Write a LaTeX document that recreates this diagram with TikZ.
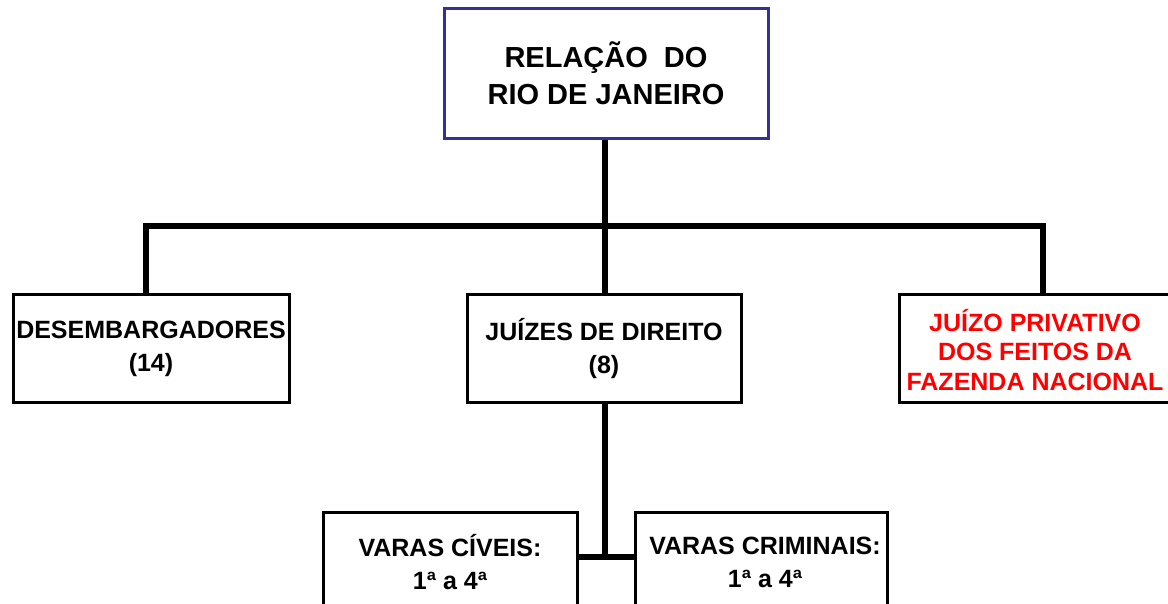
\documentclass[tikz,border=0pt]{standalone}
\usepackage{fontspec}
\setmainfont{Liberation Sans}
\definecolor{topblue}{RGB}{50,50,150}
\definecolor{redtxt}{RGB}{255,0,0}
\begin{document}
\begin{tikzpicture}[x=1pt,y=-1pt,
  box/.style={draw=black,line width=3pt,fill=white,inner sep=0pt},
  conn/.style={line width=5.5pt,line cap=butt,line join=miter},
  txt/.style={align=center,font=\fontsize{25}{33}\selectfont\bfseries,inner sep=0pt}]
\useasboundingbox (0,0) rectangle (1168,603);
\coordinate (bar) at (605,226);
\coordinate (barL) at (146,226);
\coordinate (barR) at (1043,226);
\coordinate (jn) at (605,557);
% boxes
\node[box,draw=topblue,minimum width=324pt,minimum height=130pt,align=center,
  font=\fontsize{29}{37}\selectfont\bfseries] (top) at (606,73) {RELAÇÃO~~DO\\RIO DE JANEIRO};
\node[box,minimum width=276pt,minimum height=108pt] (des) at (151,348) {};
\node[box,minimum width=274pt,minimum height=108pt] (jui) at (604,348) {};
\node[box,minimum width=272pt,minimum height=108pt] (faz) at (1035,348) {};
\node[box,minimum width=254pt,minimum height=130pt,anchor=north] (civ) at (450,511) {};
\node[box,minimum width=252pt,minimum height=130pt,anchor=north] (cri) at (761,511) {};
% connectors
\draw[conn] (top.south -| bar) -- (bar);
\draw[conn] (des.north -| barL) -- (barL) -- (barR) -- (faz.north -| barR);
\draw[conn] (bar) -- (jui.north -| bar);
\draw[conn] (jui.south -| jn) -- ([yshift=2.75pt]jn);
\draw[conn] (civ.east |- jn) -- (cri.west |- jn);
% texts
\node[txt] (desT) at (151,349) {DESEMBARGADORES\\(14)};
\node[txt] (juiT) at (604,349) {JUÍZES DE DIREITO\\(8)};
\node[txt,text=redtxt,font=\fontsize{25}{29.5}\selectfont\bfseries] (fazT) at (1035,350) {JUÍZO PRIVATIVO\\DOS FEITOS DA\\FAZENDA NACIONAL};
\node[txt] (civT) at (450,562) {VARAS CÍVEIS:\\1ª a 4ª};
\node[txt] (criT) at (765,562) {VARAS CRIMINAIS:\\1ª a 4ª};
\end{tikzpicture}
\end{document}
